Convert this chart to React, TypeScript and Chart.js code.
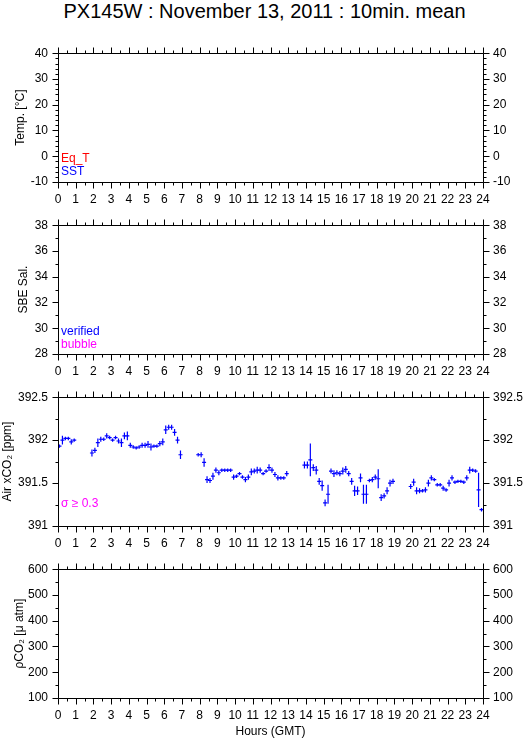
import React, { useEffect, useRef } from 'react';
import { Chart, registerables } from 'chart.js';

Chart.register(...registerables);

const TITLE = 'PX145W : November 13, 2011 : 10min. mean';
const X_TITLE = 'Hours (GMT)';

// Hours axis
const hourMin = 0;
const hourMax = 24;

// Panel y ranges
const tempRange = [-10, 40];
const salRange = [28, 38];
const xco2Range = [391, 392.5];
const pco2Range = [100, 600];

// Air xCO2 10-min means (minutes of day), values (ppm), std dev (ppm)
const xco2Minutes = [
  5, 15, 25, 35, 45, 55,
  115, 125, 135, 145, 155, 165, 175, 185, 195, 205, 215, 225, 235, 245, 255, 265,
  275, 285, 295, 305, 315, 325, 335, 345, 355, 365, 375, 385, 395, 405, 415,
  475, 485, 495, 505, 515, 525, 535, 545, 555, 565, 575, 585, 595, 605, 615, 625,
  635, 645, 655, 665, 675, 685, 695, 705, 715, 725, 735, 745, 755, 765, 775,
  835, 845, 855, 865, 875, 885, 895, 905, 915, 925, 935, 945, 955, 965, 975, 985,
  995, 1005, 1015, 1025, 1035, 1045, 1055, 1065, 1075, 1085, 1095, 1105, 1115, 1125, 1135,
  1195, 1205, 1215, 1225, 1235, 1245, 1255, 1265, 1275, 1285, 1295, 1305, 1315, 1325,
  1335, 1345, 1355, 1365, 1375, 1385, 1395, 1405, 1415, 1425, 1435,
];
const xco2Values = [
  391.93, 392.0, 392.02, 392.02, 391.98, 392.0,
  391.85, 391.88, 391.97, 392.01, 392.01, 392.05, 392.03, 392.0, 392.03, 391.99, 391.97, 392.05,
  392.05, 391.94, 391.92, 391.91, 391.92, 391.94, 391.94, 391.95, 391.92, 391.93, 391.93, 391.96,
  391.98, 392.12, 392.15, 392.15, 392.09, 392.0, 391.83,
  391.83, 391.83, 391.74, 391.54, 391.53, 391.58, 391.65, 391.62, 391.65, 391.65, 391.65, 391.65,
  391.57, 391.58, 391.61, 391.57, 391.54, 391.57, 391.63, 391.64, 391.65, 391.65, 391.61, 391.64,
  391.68, 391.65, 391.6, 391.56, 391.56, 391.56, 391.61,
  391.71, 391.71, 391.77, 391.68, 391.65, 391.52, 391.47, 391.27, 391.37, 391.64, 391.61, 391.62,
  391.61, 391.64, 391.66, 391.61, 391.52, 391.41, 391.41, 391.56, 391.37, 391.37, 391.53, 391.54,
  391.57, 391.55, 391.33, 391.35, 391.41, 391.5, 391.52,
  391.46, 391.51, 391.41, 391.41, 391.41, 391.42, 391.5, 391.56, 391.54, 391.48, 391.48, 391.44,
  391.42, 391.5, 391.56, 391.51, 391.52, 391.52, 391.51, 391.56, 391.65, 391.65, 391.64, 391.42, 391.19,
];
const xco2Sigma = [
  0.02, 0.05, 0.02, 0.02, 0.03, 0.02,
  0.04, 0.03, 0.05, 0.03, 0.02, 0.03, 0.02, 0.02, 0.02, 0.03, 0.05, 0.04,
  0.05, 0.03, 0.02, 0.02, 0.02, 0.03, 0.03, 0.04, 0.04, 0.02, 0.02, 0.03,
  0.04, 0.05, 0.03, 0.03, 0.04, 0.04, 0.05,
  0.02, 0.03, 0.05, 0.04, 0.03, 0.04, 0.03, 0.03, 0.02, 0.02, 0.02, 0.02,
  0.03, 0.02, 0.02, 0.02, 0.03, 0.03, 0.04, 0.03, 0.04, 0.03, 0.02, 0.02,
  0.04, 0.03, 0.03, 0.03, 0.02, 0.02, 0.03,
  0.04, 0.04, 0.19, 0.04, 0.05, 0.04, 0.06, 0.04, 0.11, 0.03, 0.04, 0.03,
  0.03, 0.04, 0.04, 0.03, 0.04, 0.06, 0.05, 0.05, 0.11, 0.11, 0.02, 0.03,
  0.03, 0.11, 0.04, 0.03, 0.04, 0.04, 0.03,
  0.03, 0.04, 0.04, 0.03, 0.02, 0.03, 0.04, 0.03, 0.02, 0.02, 0.02, 0.03,
  0.02, 0.04, 0.03, 0.02, 0.02, 0.02, 0.02, 0.03, 0.04, 0.02, 0.02, 0.2, 0.02,
];

const FONT = "'Liberation Sans', Arial, Helvetica, sans-serif";
const BLUE = '#0000ff';
const RED = '#ff0000';
const MAGENTA = '#ff00ff';

const frameTicks = {
  id: 'frameTicks',
  afterDraw(chart: any, _args: any, opts: any) {
    const { ctx, chartArea: a, scales } = chart;
    const xs = scales.x;
    const ys = scales.y;
    const L = Math.round(a.left) + 0.5;
    const R = Math.round(a.right) + 0.5;
    const T = Math.round(a.top) + 0.5;
    const B = Math.round(a.bottom) + 0.5;
    ctx.save();
    ctx.strokeStyle = '#000';
    ctx.lineWidth = 1;
    ctx.beginPath();
    ctx.rect(L, T, R - L, B - T);
    const isMajor = (v: number, step: number) => Math.abs(v / step - Math.round(v / step)) < 1e-6;
    for (let v = xs.min; v <= xs.max + 1e-9; v += opts.xMinor) {
      const p = Math.round(xs.getPixelForValue(v)) + 0.5;
      const len = isMajor(v, opts.xMajor) ? 6 : 3;
      ctx.moveTo(p, T); ctx.lineTo(p, T - len);
      ctx.moveTo(p, B); ctx.lineTo(p, B + len);
    }
    for (let v = ys.min; v <= ys.max + 1e-9; v += opts.yMinor) {
      const p = Math.round(ys.getPixelForValue(v)) + 0.5;
      const len = isMajor(v - ys.min, opts.yMajor) ? 6 : 3;
      ctx.moveTo(L, p); ctx.lineTo(L - len, p);
      ctx.moveTo(R, p); ctx.lineTo(R + len, p);
    }
    ctx.stroke();
    ctx.font = '12px ' + FONT;
    ctx.textBaseline = 'middle';
    ctx.textAlign = 'left';
    (opts.notes || []).forEach((n: any) => {
      ctx.fillStyle = n.color;
      ctx.fillText(n.text, a.left + 3, a.bottom - n.dy);
    });
    ctx.restore();
  },
};

type PanelCfg = {
  range: number[];
  step: number;
  minor: number;
  title: string;
  titlePad: number;
  notes: { text: string; color: string; dy: number }[];
  withData?: boolean;
  xTitle?: boolean;
};

const panels: { top: number; height: number; cfg: PanelCfg }[] = [
  {
    top: 36, height: 172,
    cfg: {
      range: tempRange, step: 10, minor: 2, title: 'Temp. [°C]', titlePad: 13,
      notes: [{ text: 'Eq_T', color: RED, dy: 23 }, { text: 'SST', color: BLUE, dy: 10 }],
    },
  },
  {
    top: 208, height: 172,
    cfg: {
      range: salRange, step: 2, minor: 1, title: 'SBE Sal.', titlePad: 16,
      notes: [{ text: 'verified', color: BLUE, dy: 22 }, { text: 'bubble', color: MAGENTA, dy: 9 }],
    },
  },
  {
    top: 380, height: 172,
    cfg: {
      range: xco2Range, step: 0.5, minor: 0.25, title: 'Air xCO₂ [ppm]', titlePad: 0,
      notes: [{ text: 'σ ≥ 0.3', color: MAGENTA, dy: 22 }], withData: true,
    },
  },
  {
    top: 552, height: 187,
    cfg: {
      range: pco2Range, step: 100, minor: 50, title: 'ρCO₂ [μ atm]', titlePad: 12,
      notes: [], xTitle: true,
    },
  },
];

function buildConfig(cfg: PanelCfg, height: number): any {
  const tickFont = { family: FONT, size: 12 };
  const fmt = (v: any) => String(Math.round(Number(v) * 100) / 100);
  const datasets: any[] = [];
  if (cfg.withData) {
    datasets.push({
      type: 'bar',
      data: xco2Minutes.map((m, i) => ({
        x: m / 60,
        y: [xco2Values[i] - xco2Sigma[i], xco2Values[i] + xco2Sigma[i]],
      })),
      backgroundColor: BLUE,
      borderWidth: 0,
      inflateAmount: 0,
      barThickness: 1.2,
      xAxisID: 'x',
      yAxisID: 'y',
    });
    datasets.push({
      type: 'scatter',
      data: xco2Minutes.map((m, i) => ({ x: m / 60, y: xco2Values[i] })),
      pointStyle: 'line',
      pointRadius: 2,
      borderColor: BLUE,
      backgroundColor: BLUE,
      borderWidth: 1.2,
      showLine: false,
      xAxisID: 'x',
      yAxisID: 'y',
    });
  }
  const yCommon = {
    type: 'linear',
    min: cfg.range[0],
    max: cfg.range[1],
    grid: { display: false, drawTicks: false },
    border: { display: false },
    ticks: { stepSize: cfg.step, padding: 10, color: '#000', font: tickFont, callback: fmt },
  };
  return {
    type: 'scatter',
    data: { datasets },
    plugins: [frameTicks],
    options: {
      responsive: false,
      maintainAspectRatio: false,
      animation: false,
      devicePixelRatio: 1,
      layout: { padding: { top: 8, left: 0, right: 0, bottom: 0 } },
      plugins: {
        legend: { display: false },
        tooltip: { enabled: false },
        frameTicks: { xMajor: 1, xMinor: 0.5, yMajor: cfg.step, yMinor: cfg.minor, notes: cfg.notes },
      },
      scales: {
        x: {
          type: 'linear',
          position: 'bottom',
          min: hourMin,
          max: hourMax,
          offset: false,
          afterFit: (s: any) => { s.height = height - 8 - 138; },
          grid: { display: false, drawTicks: false },
          border: { display: false },
          ticks: {
            stepSize: 1, padding: 10, color: '#000', font: tickFont,
            autoSkip: false, maxRotation: 0, minRotation: 0, callback: fmt,
          },
          title: {
            display: !!cfg.xTitle, text: X_TITLE, color: '#000',
            font: { family: FONT, size: 12 }, padding: { top: 0, bottom: 0 },
          },
        },
        y: {
          ...yCommon,
          position: 'left',
          afterFit: (s: any) => { s.width = 58; },
          title: {
            display: true, text: cfg.title, color: '#000',
            font: { family: FONT, size: 12 }, padding: { top: cfg.titlePad, bottom: 0 },
          },
        },
        y2: {
          ...yCommon,
          position: 'right',
          afterFit: (s: any) => { s.width = 46; },
        },
      },
    },
  };
}

function Panel({ top, height, cfg }: { top: number; height: number; cfg: PanelCfg }) {
  const ref = useRef<HTMLCanvasElement>(null);
  useEffect(() => {
    const chart = new Chart(ref.current as HTMLCanvasElement, buildConfig(cfg, height));
    return () => chart.destroy();
  }, []);
  return (
    <canvas
      ref={ref}
      width={529}
      height={height}
      style={{ position: 'absolute', left: 0, top, width: 529, height, display: 'block' }}
    />
  );
}

export default function App() {
  return (
    <div style={{ position: 'absolute', left: 0, top: 0, width: 529, height: 739, background: '#fff', overflow: 'hidden' }}>
      <div
        style={{
          position: 'absolute', left: 0, top: 0, width: 529, textAlign: 'center',
          fontFamily: FONT, fontSize: 20, lineHeight: '22px', color: '#000',
        }}
      >
        {TITLE}
      </div>
      {panels.map((p, i) => (
        <Panel key={i} top={p.top} height={p.height} cfg={p.cfg} />
      ))}
    </div>
  );
}
